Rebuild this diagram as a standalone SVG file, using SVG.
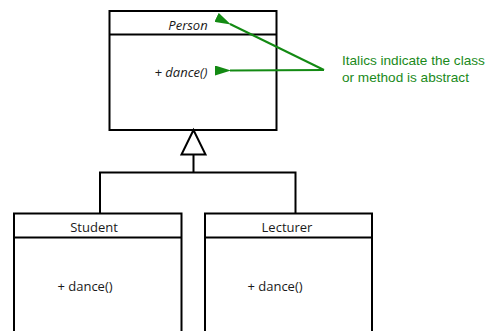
<svg xmlns="http://www.w3.org/2000/svg" width="491" height="331" viewBox="0 0 491 331">
  <style>
    .box { fill: #ffffff; stroke: #000000; stroke-width: 2; }
    .line { fill: none; stroke: #000000; stroke-width: 2; }
    .lbl { font-family: "Open Sans", "Liberation Sans", sans-serif; font-size: 13px; fill: #1a1a1a; }
    .it { font-style: italic; }
    .note { font-family: "Liberation Sans", sans-serif; font-size: 13.6px; fill: #1a8a1a; }
    .callout { fill: none; stroke: #138a13; stroke-width: 2; }
  </style>
  <defs>
    <marker id="greenArrow" viewBox="0 0 16 10" refX="1" refY="5" markerWidth="16" markerHeight="10" markerUnits="userSpaceOnUse" orient="auto-start-reverse">
      <path d="M0,5 L16,0 L16,10 Z" fill="#138a13"/>
    </marker>
  </defs>

  <!-- abstract base class -->
  <g id="person">
    <rect class="box" x="109.5" y="11" width="167" height="119"/>
    <line class="line" x1="109.5" y1="34.5" x2="276.5" y2="34.5"/>
    <text class="lbl it" x="188" y="29.5" text-anchor="middle">Person</text>
    <text class="lbl it" x="181" y="76.5" text-anchor="middle">+ dance()</text>
  </g>

  <!-- subclasses -->
  <g id="student">
    <rect class="box" x="14" y="213.5" width="167.5" height="130"/>
    <line class="line" x1="14" y1="237.5" x2="181.5" y2="237.5"/>
    <text class="lbl" x="94" y="232" text-anchor="middle">Student</text>
    <text class="lbl" x="85" y="291" text-anchor="middle">+ dance()</text>
  </g>
  <g id="lecturer">
    <rect class="box" x="205" y="213.5" width="167" height="130"/>
    <line class="line" x1="205" y1="237.5" x2="372" y2="237.5"/>
    <text class="lbl" x="287" y="232" text-anchor="middle">Lecturer</text>
    <text class="lbl" x="275" y="291" text-anchor="middle">+ dance()</text>
  </g>

  <!-- generalization tree and note -->
  <g id="connectors">
    <path class="line" d="M193.5,154.5 V172.5 M100,213.5 V172.5 H295.5 V213.5"/>
    <path class="box" d="M193.5,130 L181.5,154.5 L205.5,154.5 Z"/>
    <path class="callout" d="M324,70 L230,24" marker-end="url(#greenArrow)"/>
    <path class="callout" d="M324,70 L230,70.5" marker-end="url(#greenArrow)"/>
  </g>

  <g id="note">
    <text class="note" x="342" y="65">Italics indicate the class</text>
    <text class="note" x="342" y="82">or method is abstract</text>
  </g>
</svg>
